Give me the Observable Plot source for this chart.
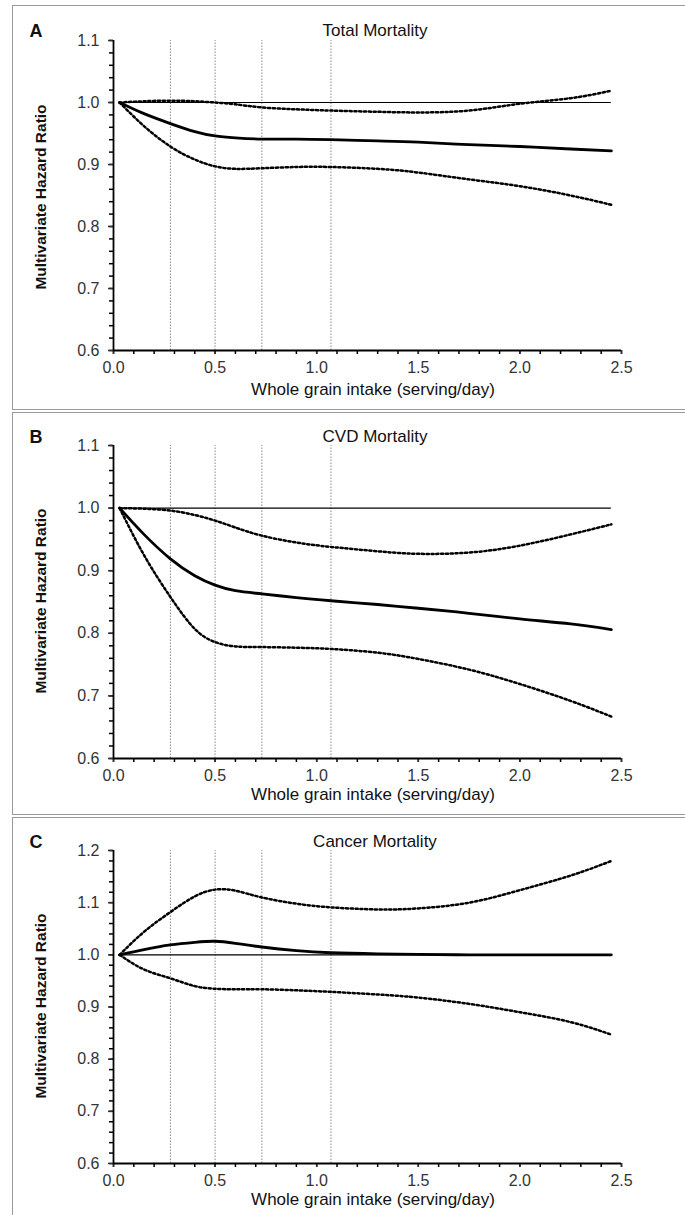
<!DOCTYPE html>
<html>
<head>
<meta charset="utf-8">
<script src="https://cdn.jsdelivr.net/npm/d3@7"></script>
<script src="https://cdn.jsdelivr.net/npm/@observablehq/plot@0.6"></script>
<style>
  body { margin: 0; background: #fff; font-family: "Liberation Sans", Arial, sans-serif; }
  #wrap { position: relative; width: 685px; height: 1215px; overflow: hidden; }
  .box { position: absolute; left: 12px; width: 700px; border: 1.5px solid #9a9a9a; box-sizing: border-box; }
  .svgpos { position: absolute; left: 0; }
  .lab { position: absolute; white-space: nowrap; color: #111; }
  .letter { font-weight: bold; font-size: 18px; transform: translate(-50%, -50%); }
  .title { font-size: 17px; transform: translate(-50%, -50%); }
  .xt { font-size: 17px; transform: translate(-50%, -50%); }
  .yt { font-size: 15.5px; font-weight: bold; transform: translate(-50%, -50%) rotate(-90deg); }
</style>
</head>
<body>
<div id="wrap"></div>
<script>
// ---- data ----
const xs = [0.03, 0.15, 0.28, 0.4, 0.5, 0.6, 0.73, 0.9, 1.07, 1.3, 1.5, 1.75, 2.0, 2.25, 2.45];
const quintileCuts = [0.28, 0.5, 0.73, 1.07];

const panelLetters = ["A", "B", "C"];
const panelTitles = ["Total Mortality", "CVD Mortality", "Cancer Mortality"];
const xTickLabels = [0.0, 0.5, 1.0, 1.5, 2.0, 2.5];
const yMaxes = [1.1, 1.1, 1.2];

const totalEst = [1.0, 0.982, 0.966, 0.953, 0.946, 0.943, 0.941, 0.941, 0.940, 0.938, 0.936, 0.932, 0.929, 0.925, 0.922];
const totalHi  = [1.0, 1.002, 1.003, 1.002, 1.0, 0.997, 0.992, 0.989, 0.987, 0.985, 0.984, 0.987, 0.998, 1.007, 1.019];
const totalLo  = [1.0, 0.962, 0.929, 0.908, 0.897, 0.893, 0.894, 0.896, 0.896, 0.893, 0.887, 0.876, 0.865, 0.850, 0.835];

const cvdEst = [1.0, 0.958, 0.919, 0.892, 0.877, 0.868, 0.863, 0.857, 0.852, 0.846, 0.840, 0.832, 0.823, 0.815, 0.806];
const cvdHi  = [1.0, 0.999, 0.996, 0.989, 0.980, 0.969, 0.956, 0.945, 0.938, 0.931, 0.927, 0.929, 0.940, 0.958, 0.974];
const cvdLo  = [1.0, 0.925, 0.858, 0.807, 0.786, 0.779, 0.778, 0.777, 0.775, 0.769, 0.759, 0.742, 0.719, 0.692, 0.667];

const cancerEst = [1.0, 1.010, 1.019, 1.024, 1.026, 1.022, 1.015, 1.008, 1.004, 1.002, 1.001, 1.0, 1.0, 1.0, 1.0];
const cancerHi  = [1.0, 1.044, 1.082, 1.112, 1.125, 1.123, 1.110, 1.098, 1.091, 1.087, 1.089, 1.100, 1.124, 1.152, 1.180];
const cancerLo  = [1.0, 0.972, 0.955, 0.940, 0.935, 0.934, 0.934, 0.932, 0.929, 0.924, 0.918, 0.906, 0.890, 0.871, 0.847];

const series = [
  [totalEst, totalHi, totalLo],
  [cvdEst, cvdHi, cvdLo],
  [cancerEst, cancerHi, cancerLo]
];

// ---- layout ----
const boxes = [ {top: 5, h: 405}, {top: 412, h: 403}, {top: 817, h: 410} ];
const svgTops = [5, 412, 817];
const mTop = [35, 33, 33];
const mBot = [55, 54, 54];
const titleY = [31, 437, 842];
const xTitleY = [390, 795, 1200];
const yTitleY = [197, 601, 1006];

const wrap = document.getElementById("wrap");
const fmt = d3.format(".1f");

for (let p = 0; p < 3; p++) {
  const box = document.createElement("div");
  box.className = "box";
  box.style.top = boxes[p].top + "px";
  box.style.height = boxes[p].h + "px";
  wrap.appendChild(box);

  const [est, hi, lo] = series[p];
  const rows = (arr) => xs.map((x, i) => ({x, y: arr[i]}));
  const ymax = yMaxes[p];
  const majorY = d3.range(0.6, ymax + 0.001, 0.1).map(v => +v.toFixed(2));
  const minorY = d3.range(0.6, ymax + 0.001, 0.02).map(v => +v.toFixed(2));
  const minorX = d3.range(0, 2.5001, 0.1).map(v => +v.toFixed(2));

  const chart = Plot.plot({
    width: 685,
    height: 400,
    marginLeft: 113,
    marginRight: 64,
    marginTop: mTop[p],
    marginBottom: mBot[p],
    style: {fontFamily: "'Liberation Sans', Arial, sans-serif", background: "transparent", overflow: "visible"},
    x: {domain: [0, 2.5]},
    y: {domain: [0.6, ymax]},
    marks: [
      Plot.ruleX(quintileCuts, {y1: 0.6, y2: ymax, stroke: "#888", strokeWidth: 1, strokeDasharray: "1.5,1.5"}),
      Plot.ruleY([1], {x1: xs[0], x2: xs[xs.length - 1], stroke: "#000", strokeWidth: 1.2}),
      Plot.line(rows(hi), {x: "x", y: "y", curve: "natural", stroke: "#000", strokeWidth: 2.5, strokeDasharray: "2.2,2.6"}),
      Plot.line(rows(lo), {x: "x", y: "y", curve: "natural", stroke: "#000", strokeWidth: 2.5, strokeDasharray: "2.2,2.6"}),
      Plot.line(rows(est), {x: "x", y: "y", curve: "natural", stroke: "#000", strokeWidth: 2.8}),
      Plot.axisY({ticks: minorY, tickSize: 4, tickFormat: () => "", strokeWidth: 1.5, label: null}),
      Plot.axisY({ticks: majorY, tickSize: 5, tickPadding: 9, tickFormat: fmt, fontSize: 16, color: "#333", strokeWidth: 1.5, label: null}),
      Plot.axisX({ticks: minorX, tickSize: 4, tickFormat: () => "", strokeWidth: 1.5, label: null}),
      Plot.axisX({ticks: xTickLabels, tickSize: 4, tickPadding: 7, tickFormat: fmt, fontSize: 16, color: "#333", strokeWidth: 1.5, label: null}),
      Plot.ruleX([0], {stroke: "#000", strokeWidth: 1.8}),
      Plot.ruleY([0.6], {stroke: "#000", strokeWidth: 1.8})
    ]
  });
  chart.classList.add("svgpos");
  chart.style.top = svgTops[p] + "px";
  wrap.appendChild(chart);

  const addLab = (cls, text, x, y) => {
    const d = document.createElement("div");
    d.className = "lab " + cls;
    d.textContent = text;
    d.style.left = x + "px";
    d.style.top = y + "px";
    wrap.appendChild(d);
  };
  addLab("letter", panelLetters[p], 36, titleY[p]);
  addLab("title", panelTitles[p], 375, titleY[p]);
  addLab("xt", "Whole grain intake (serving/day)", 373, xTitleY[p]);
  addLab("yt", "Multivariate Hazard Ratio", 41, yTitleY[p]);
}
</script>
</body>
</html>
